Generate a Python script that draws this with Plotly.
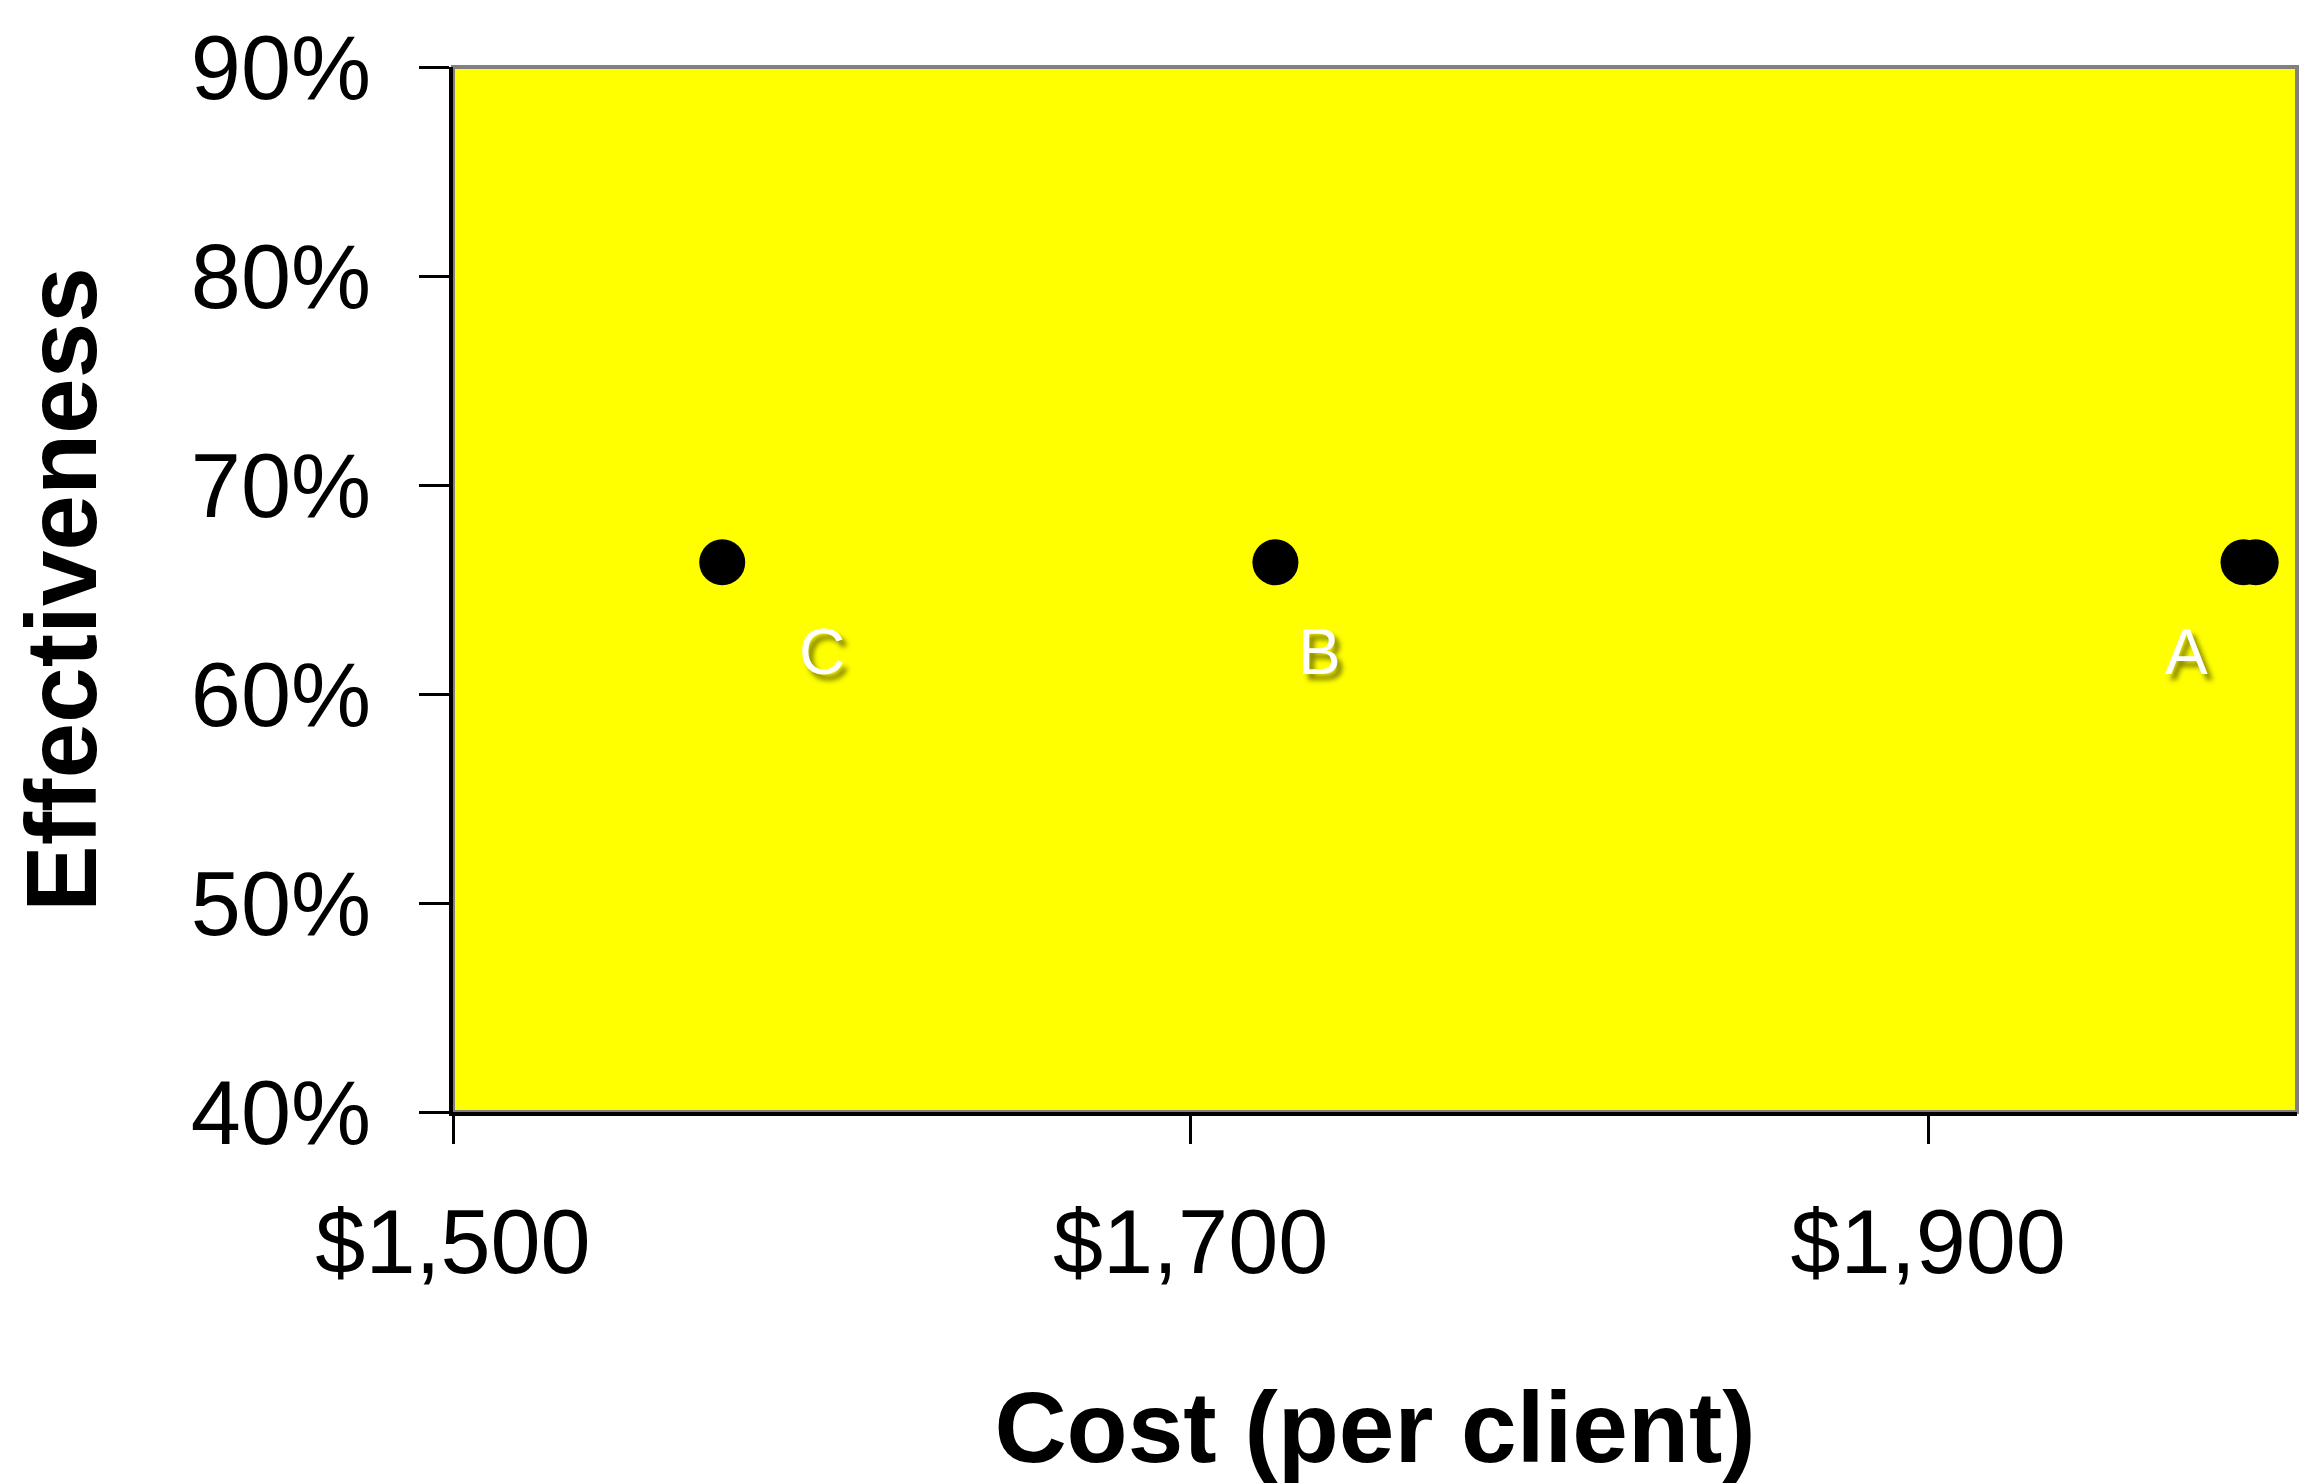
import plotly.graph_objects as go

# Data
costs = [1985.5, 1988.8, 1723, 1573]          # cost per client ($); A's dot is a pair of overlapping points
effectiveness = [0.663, 0.663, 0.663, 0.663]  # effectiveness (fraction)
label_names = ["A", "B", "C"]
label_x = [1970, 1735, 1600]
label_y = [0.62, 0.62, 0.62]
x_ticks = [1500, 1700, 1900]
x_tick_text = ["$1,500", "$1,700", "$1,900"]
y_ticks = [0.4, 0.5, 0.6, 0.7, 0.8, 0.9]
y_tick_text = ["40%", "50%", "60%", "70%", "80%", "90%"]

FONT = "Liberation Sans, Arial, sans-serif"

fig = go.Figure()
fig.add_trace(go.Scatter(
    x=costs, y=effectiveness, mode="markers",
    marker=dict(color="black", size=46, line=dict(width=0)),
    showlegend=False, cliponaxis=False,
))

for name, lx, ly in zip(label_names, label_x, label_y):
    fig.add_annotation(
        x=lx, y=ly, xref="x", yref="y", text=name, showarrow=False,
        font=dict(family=FONT, size=64, color="white",
                  shadow="5px 6px 5px rgba(90,90,0,0.75)"),
    )

fig.add_shape(type="rect", xref="paper", yref="paper", x0=0, x1=1, y0=0, y1=1,
              line=dict(color="#808080", width=4), layer="below")

fig.update_layout(
    width=2301, height=1483,
    margin=dict(l=453, r=4, t=67, b=371),
    paper_bgcolor="white", plot_bgcolor="#FFFF00",
    font=dict(family=FONT, color="black"),
    xaxis=dict(
        range=[1500, 2000], tickvals=x_ticks, ticktext=x_tick_text,
        showgrid=False, zeroline=False, showline=True, linecolor="black", linewidth=4,
        ticks="outside", ticklen=28, tickwidth=3, tickcolor="black",
        tickfont=dict(size=90, family=FONT), ticklabelstandoff=21,
        title=dict(text="<b>Cost (per client)</b>", font=dict(size=100, family=FONT), standoff=108),
    ),
    yaxis=dict(
        range=[0.4, 0.9], tickvals=y_ticks, ticktext=y_tick_text,
        showgrid=False, zeroline=False, showline=True, linecolor="black", linewidth=4,
        ticks="outside", ticklen=30, tickwidth=3, tickcolor="black",
        tickfont=dict(size=90, family=FONT), ticklabelstandoff=30,
        title=dict(text="<b>Effectiveness</b>", font=dict(size=100, family=FONT), standoff=62),
    ),
)

fig.write_html("out.html", config={"displayModeBar": False},
               post_script="document.body.style.margin='0';")
